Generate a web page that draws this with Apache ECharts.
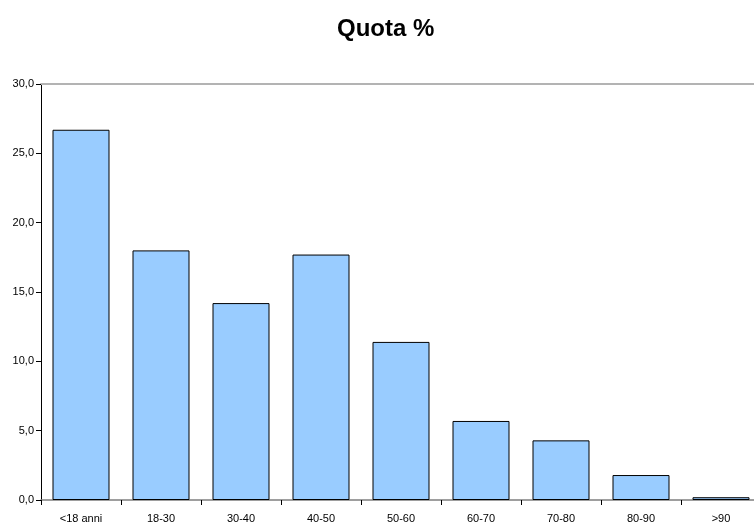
<!DOCTYPE html>
<html>
<head>
<meta charset="utf-8">
<script src="https://cdn.jsdelivr.net/npm/echarts@6/dist/echarts.min.js"></script>
<style>
  html, body { margin: 0; padding: 0; background: #ffffff; overflow: hidden; }
  body { width: 754px; height: 524px; }
  #chart { width: 770px; height: 524px; }
</style>
</head>
<body>
<div id="chart"></div>
<script>
// Age bands and their share (%)
const categories = ['<18 anni', '18-30', '30-40', '40-50', '50-60', '60-70', '70-80', '80-90', '>90'];
const quota = [26.7, 18.0, 14.2, 17.7, 11.4, 5.7, 4.3, 1.8, 0.2];
const yTicks = { min: 0, max: 30, interval: 5 };

const chart = echarts.init(document.getElementById('chart'), null, { renderer: 'canvas' });

const fmt = v => v.toFixed(1).replace('.', ',');

chart.setOption({
  animation: false,
  backgroundColor: '#ffffff',
  title: {
    text: 'Quota %',
    left: 332,
    top: 12,
    textStyle: { fontFamily: 'Liberation Sans, Arial, sans-serif', fontWeight: 'bold', fontSize: 24, color: '#000000' }
  },
  grid: { left: 41, top: 84, width: 720, height: 416, containLabel: false },
  xAxis: [
    {
      type: 'category',
      data: categories,
      position: 'bottom',
      axisLine: { show: true, lineStyle: { color: '#7f7f7f', width: 1.5 } },
      axisTick: { show: true, alignWithLabel: false, length: 5, lineStyle: { color: '#000000' } },
      axisLabel: { fontFamily: 'Liberation Sans, Arial, sans-serif', fontSize: 11, color: '#000000', margin: 13 },
      splitLine: { show: false }
    },
    {
      type: 'category',
      data: categories,
      position: 'top',
      axisLine: { show: true, lineStyle: { color: '#b3b3b3', width: 2 } },
      axisTick: { show: false },
      axisLabel: { show: false }
    }
  ],
  yAxis: {
    type: 'value',
    min: yTicks.min,
    max: yTicks.max,
    interval: yTicks.interval,
    axisLine: { show: true, lineStyle: { color: '#000000', width: 1 } },
    axisTick: { show: true, length: 5, inside: false, lineStyle: { color: '#000000' } },
    axisLabel: { formatter: fmt, fontFamily: 'Liberation Sans, Arial, sans-serif', fontSize: 11, color: '#000000', margin: 7 },
    splitLine: { show: false }
  },
  series: [{
    type: 'bar',
    data: quota,
    xAxisIndex: 0,
    barWidth: 57,
    itemStyle: { color: '#99ccff', borderColor: '#000000', borderWidth: 1 }
  }]
});
</script>
</body>
</html>
